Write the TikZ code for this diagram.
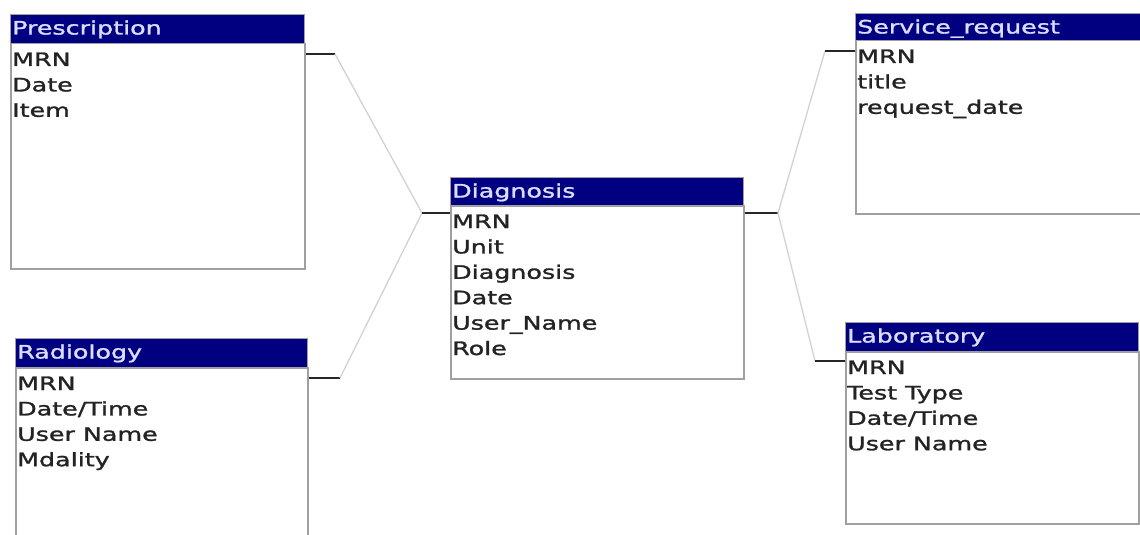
\documentclass[tikz,border=0pt]{standalone}
\usepackage{fontspec}
\setmainfont{DejaVu Sans}[FakeStretch=1.37, FakeBold=1.4]
\definecolor{hdrblue}{RGB}{0,0,128}
\definecolor{hdrtext}{RGB}{220,222,255}
\definecolor{fieldtext}{RGB}{35,35,35}
\definecolor{boxline}{RGB}{160,160,160}
\definecolor{linkgray}{RGB}{210,210,210}

% one table: name, x, y, width, header height, total height, title, fields
\newcommand{\erentity}[8]{%
  \node[entbody, minimum width=#4pt, minimum height=#6pt-#5pt] (#1-b) at (#2,#3+#5) {};
  \node[enthead, minimum width=#4pt, minimum height=#5pt] (#1-h) at (#2,#3) {};
  \node[enttitle] (#1-t) at ([shift={(2,20.5)}]#1-h.north west) {#7};
  \foreach \fld [count=\i from 0] in {#8}
    \node[entfield] (#1-f\i) at ([shift={(2,23+25.4*\i)}]#1-b.north west) {\fld};
}

\begin{document}
\begin{tikzpicture}[x=1pt,y=-1pt,
  entbody/.style={draw=boxline, line width=1.5pt, fill=white, anchor=north west, inner sep=0pt},
  enthead/.style={draw=boxline, line width=0.8pt, fill=hdrblue, anchor=north west, inner sep=0pt},
  enttitle/.style={anchor=base west, inner sep=0pt, text=hdrtext, font=\fontsize{18.5}{20}\selectfont},
  entfield/.style={anchor=base west, inner sep=0pt, text=fieldtext, font=\fontsize{18.5}{20}\selectfont},
  stub/.style={draw=black!85, line width=2pt},
  link/.style={draw=linkgray, line width=1.3pt}]
  \useasboundingbox (0,0) rectangle (1140,535);
  \fill[white] (0,0) rectangle (1140,535);
  \clip (0,0) rectangle (1140,535);

  % tables
  \erentity{presc}{10}{14}{294}{29}{254}{Prescription}{MRN,Date,Item}
  \erentity{radio}{15}{338}{292}{29}{212}{Radiology}{MRN,Date/Time,User Name,Mdality}
  \erentity{diag}{450}{177}{293}{28}{201}{Diagnosis}{MRN,Unit,Diagnosis,Date,User\_Name,Role}
  \erentity{serv}{855}{13}{300}{27}{200}{Service\_request}{MRN,title,request\_date}
  \erentity{lab}{845}{322}{293}{29}{201}{Laboratory}{MRN,Test Type,Date/Time,User Name}

  % bends of the relationship lines
  \coordinate (jP) at (335,54);
  \coordinate (jD1) at (422,213);
  \coordinate (jR) at (340,378);
  \coordinate (jD2) at (778,213);
  \coordinate (jS) at (825,51);
  \coordinate (jL) at (815,361);

  % left side relationships
  \draw[stub] (presc-b.east |- jP) -- (jP);
  \draw[link] (jP) -- (jD1);
  \draw[stub] (radio-b.east |- jR) -- (jR);
  \draw[link] (jR) -- (jD1);
  \draw[stub] (jD1) -- (diag-b.west |- jD1);

  % right side relationships
  \draw[stub] (diag-b.east |- jD2) -- (jD2);
  \draw[link] (jD2) -- (jS);
  \draw[stub] (jS) -- (serv-b.west |- jS);
  \draw[link] (jD2) -- (jL);
  \draw[stub] (jL) -- (lab-b.west |- jL);
\end{tikzpicture}
\end{document}
